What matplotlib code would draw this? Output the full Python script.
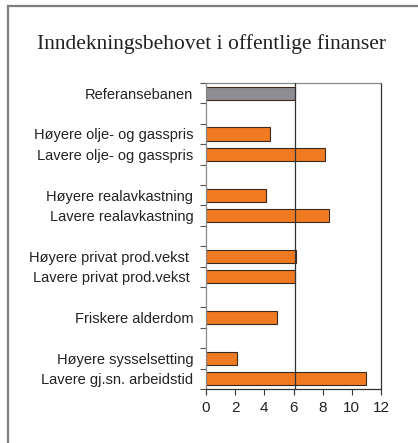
import numpy as np
import matplotlib.pyplot as plt
from matplotlib.lines import Line2D

# kategorier (tomme navn = mellomrom mellom gruppene)
labels = ["Referansebanen", "", "Høyere olje- og gasspris", "Lavere olje- og gasspris", "",
          "Høyere realavkastning", "Lavere realavkastning", "",
          "Høyere privat prod.vekst ", "Lavere privat prod.vekst ", "",
          "Friskere alderdom", "", "Høyere sysselsetting", "Lavere gj.sn. arbeidstid"]
values = [6.1, np.nan, 4.4, 8.15, np.nan, 4.1, 8.4, np.nan,
          6.2, 6.08, np.nan, 4.9, np.nan, 2.1, 11.0]
is_reference = [True] + [False] * 14
ref_level = 6.1
x_ticks = [0, 2, 4, 6, 8, 10, 12]

orange = "#F07A21"
grey = "#8E8E92"

plt.rcParams['font.family'] = ['Liberation Sans', 'DejaVu Sans']

fig = plt.figure(figsize=(4.18, 4.43), dpi=100)

# ramme rundt figuren (bare topp og venstre synlig)
fig.add_artist(Line2D([7.5 / 418, 1.0], [1 - 5.5 / 443] * 2, color="#7f7f7f", lw=1.6,
                      transform=fig.transFigure))
fig.add_artist(Line2D([7.5 / 418] * 2, [0, 1 - 5.5 / 443], color="#7f7f7f", lw=1.6,
                      transform=fig.transFigure))

fig.text(0.506, 1 - 44 / 443, "Inndekningsbehovet i offentlige finanser",
         family=["Liberation Serif", "DejaVu Serif"], fontsize=15.5, color="#222222",
         ha="center", va="center")

ax = fig.add_axes([206 / 418, 1 - 389 / 443, 175 / 418, 306 / 443])
y = np.arange(len(labels))
colors = [grey if r else orange for r in is_reference]
ax.barh(y, values, height=0.65, color=colors, edgecolor="#3a2a20", linewidth=0.8, zorder=2)
ax.axvline(ref_level, color="#333333", lw=0.9, zorder=3)

ax.set_ylim(len(labels) - 0.5, -0.5)
ax.set_xlim(0, 12)
ax.set_yticks(y)
ax.set_yticklabels(labels, fontsize=10.5, color="#222222")
ax.set_yticks(np.arange(len(labels) + 1) - 0.5, minor=True)
ax.tick_params(axis="y", which="major", length=0, pad=9)
ax.tick_params(axis="y", which="minor", length=4, width=0.8, color="#555555", direction="out")
ax.set_xticks(x_ticks)
ax.tick_params(axis="x", length=4, width=0.8, color="#333333", labelsize=11,
               labelcolor="#222222", pad=5)

for side in ["top", "left"]:
    ax.spines[side].set_color("#8a8a8a")
for side in ["bottom", "right"]:
    ax.spines[side].set_color("#333333")
for s in ax.spines.values():
    s.set_linewidth(0.9)

fig.savefig("out.png", dpi=100)
